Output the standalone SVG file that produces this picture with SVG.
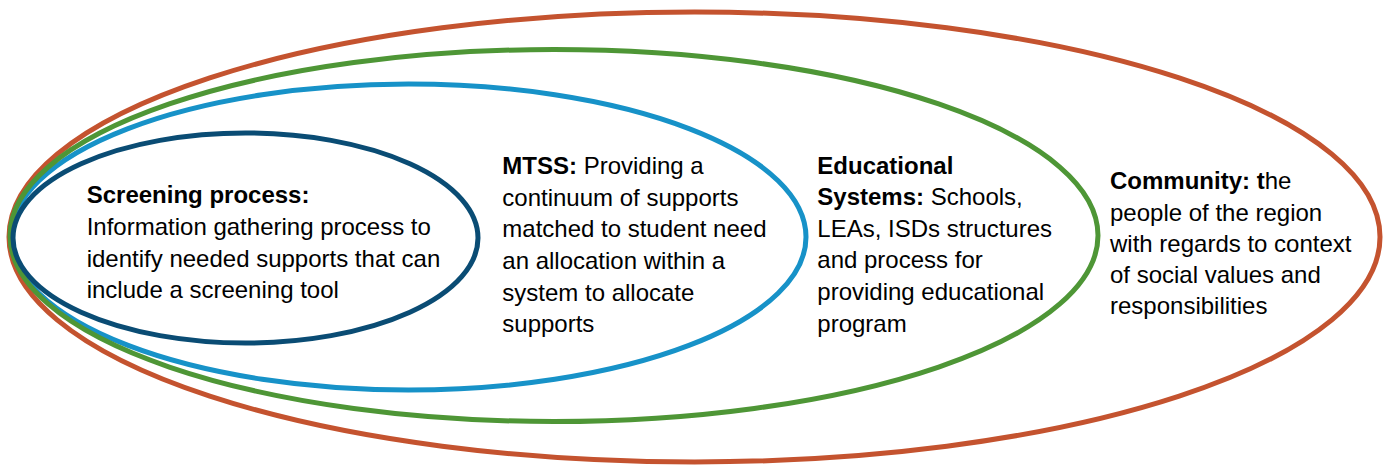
<svg xmlns="http://www.w3.org/2000/svg" width="1389" height="466" viewBox="0 0 1389 466">
<style>
.ring{fill:none;stroke-width:5}
.t{font-family:"Liberation Sans",Arial,sans-serif;font-size:24px;fill:#000}
.b{font-weight:bold}
</style>
<rect width="1389" height="466" fill="#fff"/>
<g id="community">
<ellipse class="ring" cx="694.5" cy="237" rx="685.5" ry="225" stroke="#C4532F"/>
<text class="t" x="1110" y="189.3"><tspan class="b">Community: t</tspan>he</text>
<text class="t" x="1110" y="221">people of the region</text>
<text class="t" x="1110" y="251.7">with regards to context</text>
<text class="t" x="1110" y="282.7">of social values and</text>
<text class="t" x="1110" y="314.3">responsibilities</text>
</g>
<g id="mtss">
<ellipse class="ring" cx="408.5" cy="237" rx="397.5" ry="153" stroke="#1792C8"/>
<text class="t" x="502.3" y="174"><tspan class="b">MTSS:</tspan> Providing a</text>
<text class="t" x="502.3" y="205.7">continuum of supports</text>
<text class="t" x="502.3" y="237.3">matched to student need</text>
<text class="t" x="502.3" y="269">an allocation within a</text>
<text class="t" x="502.3" y="300.7">system to allocate</text>
<text class="t" x="502.3" y="331.7">supports</text>
</g>
<g id="educational">
<ellipse class="ring" cx="554" cy="235.5" rx="544" ry="186" stroke="#4E9636"/>
<text class="t b" x="817.3" y="174.3">Educational</text>
<text class="t" x="817.3" y="205"><tspan class="b">Systems:</tspan> Schools,</text>
<text class="t" x="817.3" y="236.7">LEAs, ISDs structures</text>
<text class="t" x="817.3" y="268.3">and process for</text>
<text class="t" x="817.3" y="300">providing educational</text>
<text class="t" x="817.3" y="331.7">program</text>
</g>
<g id="screening">
<ellipse class="ring" cx="245.5" cy="238" rx="232.5" ry="105" stroke="#0A4C74"/>
<text class="t b" x="86.7" y="203.3">Screening process:</text>
<text class="t" x="86.7" y="235">Information gathering process to</text>
<text class="t" x="86.7" y="266.7">identify needed supports that can</text>
<text class="t" x="86.7" y="298.3">include a screening tool</text>
</g>
<g id="connectors"/>
</svg>
